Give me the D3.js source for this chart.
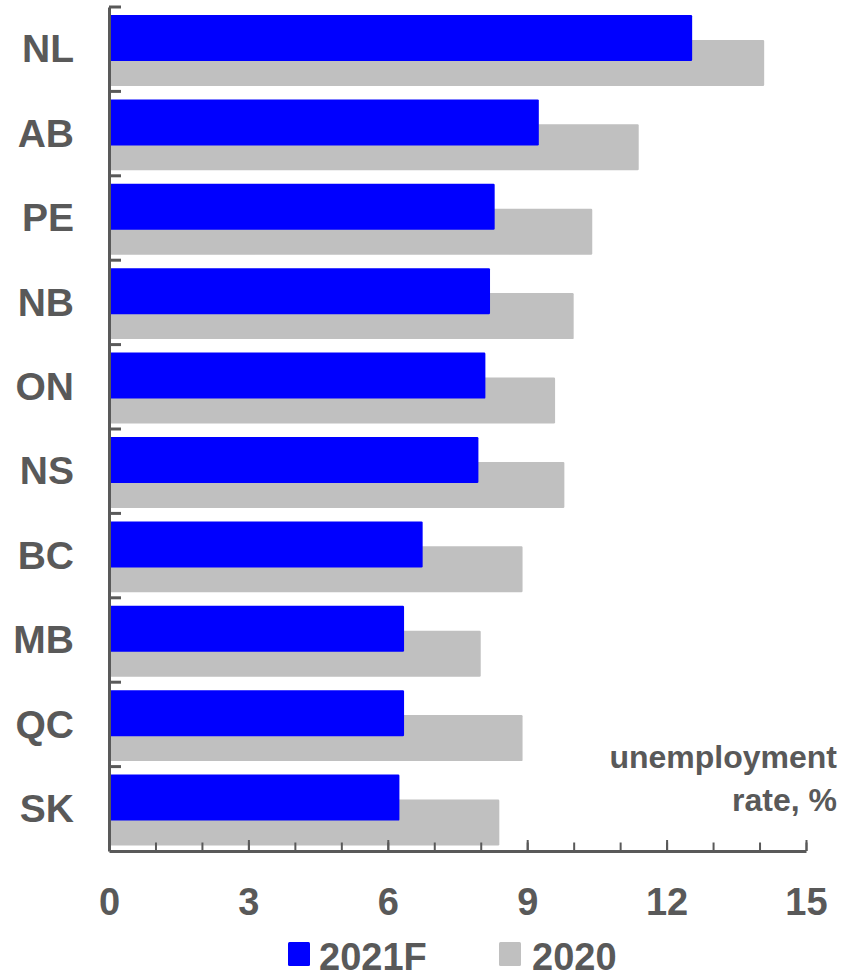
<!DOCTYPE html>
<html>
<head>
<meta charset="utf-8">
<script src="https://cdn.jsdelivr.net/npm/d3@7"></script>
<style>
  body { margin: 0; background: #fff; }
  svg { display: block; font-family: "Liberation Sans", Arial, sans-serif; font-weight: bold; }
</style>
</head>
<body>
<div id="container"></div>
<script>
// data
const provinces = ["NL", "AB", "PE", "NB", "ON", "NS", "BC", "MB", "QC", "SK"]
const rate2021F = [12.55, 9.25, 8.3, 8.2, 8.1, 7.95, 6.75, 6.35, 6.35, 6.25]
const rate2020 = [14.1, 11.4, 10.4, 10.0, 9.6, 9.8, 8.9, 8.0, 8.9, 8.4]
const majorTicks = [0, 3, 6, 9, 12, 15]
const minorTicks = d3.range(0, 16)
const legendLabels = ["2021F", "2020"]

const textColor = "#595959"
const colors = ["#0000ff", "#c0c0c0"]

const width = 846, height = 980
const margin = { left: 109, right: 40, top: 7, bottom: 129 }

const svg = d3.select("#container").append("svg")
  .attr("width", width)
  .attr("height", height)

const x = d3.scaleLinear()
  .domain([0, 15])
  .range([margin.left, 806])

const y = d3.scaleBand()
  .domain(provinces)
  .range([margin.top, height - margin.bottom])
  .padding(0)

const bw = y.bandwidth()
const rows = provinces.map((p, i) => ({ p, f: rate2021F[i], a: rate2020[i] }))

// 2020 bars sit lower, 2021F overlaps on top
svg.append("g").selectAll("rect")
  .data(rows)
  .join("rect")
    .attr("x", x(0) + 1)
    .attr("y", d => y(d.p) + bw * 0.39)
    .attr("width", d => x(d.a) - x(0) - 1)
    .attr("height", bw * 0.545)
    .attr("rx", 1.2)
    .attr("fill", colors[1])

svg.append("g").selectAll("rect")
  .data(rows)
  .join("rect")
    .attr("x", x(0) + 1)
    .attr("y", d => y(d.p) + bw * 0.095)
    .attr("width", d => x(d.f) - x(0) - 1)
    .attr("height", bw * 0.545)
    .attr("rx", 1.2)
    .attr("fill", colors[0])

// bottom axis: minor ticks, then major ticks with labels
const axisY = height - margin.bottom
svg.append("g")
  .attr("transform", `translate(0, ${axisY})`)
  .call(d3.axisTop(x).tickValues(minorTicks).tickSize(8.5).tickFormat(""))
  .call(g => g.select(".domain").remove())
  .call(g => g.selectAll("line").attr("stroke", textColor).attr("stroke-width", 2))

const xAxis = svg.append("g")
  .attr("transform", `translate(0, ${axisY})`)
  .call(d3.axisTop(x).tickValues(majorTicks).tickSize(11).tickSizeOuter(0).tickFormat(d3.format("d")))
xAxis.select(".domain").attr("stroke", textColor).attr("stroke-width", 3)
xAxis.selectAll("line").attr("stroke", textColor).attr("stroke-width", 2)
xAxis.selectAll("text")
  .attr("y", 64)
  .attr("dy", 0)
  .attr("fill", textColor)
  .style("font-size", "38px")
  .style("font-weight", "bold")

// left axis: ticks point inward at band edges
const yAxis = svg.append("g")
  .attr("transform", `translate(${margin.left}, 0)`)
  .call(d3.axisLeft(y).tickSize(0).tickPadding(0))
yAxis.select(".domain").attr("stroke", textColor).attr("stroke-width", 3)
yAxis.selectAll("text")
  .attr("x", -35)
  .attr("dy", "0.34em")
  .attr("fill", textColor)
  .style("font-size", "39px")
  .style("font-weight", "bold")

svg.append("g").selectAll("line")
  .data(provinces)
  .join("line")
    .attr("x1", margin.left)
    .attr("x2", margin.left + 12)
    .attr("y1", d => y(d))
    .attr("y2", d => y(d))
    .attr("stroke", textColor)
    .attr("stroke-width", 3)

// axis note
const note = svg.append("text")
  .attr("text-anchor", "end")
  .attr("fill", textColor)
  .style("font-size", "32px")
note.append("tspan").attr("x", 837).attr("y", 768).text("unemployment")
note.append("tspan").attr("x", 837).attr("y", 811).text("rate, %")

// legend
const legendX = [288, 499]
const legend = svg.append("g").selectAll("g")
  .data(legendLabels)
  .join("g")
    .attr("transform", (d, i) => `translate(${legendX[i]}, 942)`)
legend.append("rect")
  .attr("width", 22)
  .attr("height", 24)
  .attr("rx", 1.5)
  .attr("fill", (d, i) => colors[i])
legend.append("text")
  .attr("x", (d, i) => i === 0 ? 31 : 33)
  .attr("y", 28)
  .attr("fill", textColor)
  .style("font-size", "38px")
  .text(d => d)
</script>
</body>
</html>
